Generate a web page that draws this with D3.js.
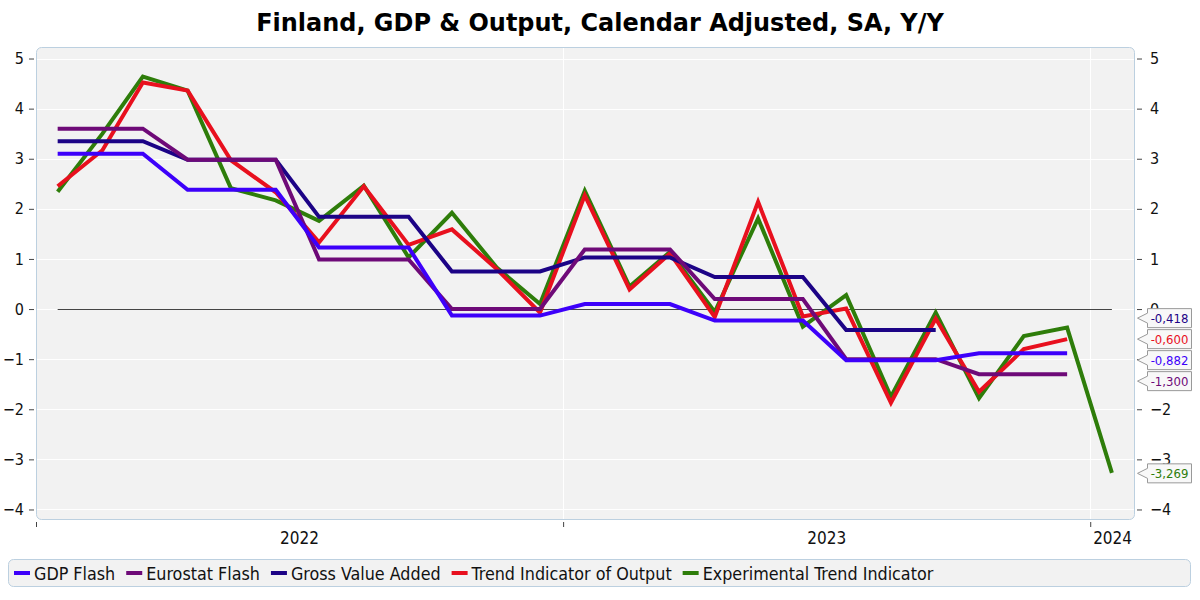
<!DOCTYPE html>
<html><head><meta charset="utf-8">
<script src="https://cdn.jsdelivr.net/npm/d3@7"></script>
<style>body{margin:0;background:#fff} svg{display:block}</style>
</head><body><svg id="c" width="1200" height="600"></svg>
<script>
const months = ["2022-01","2022-02","2022-03","2022-04","2022-05","2022-06","2022-07","2022-08","2022-09","2022-10","2022-11","2022-12",
  "2023-01","2023-02","2023-03","2023-04","2023-05","2023-06","2023-07","2023-08","2023-09","2023-10","2023-11","2023-12","2024-01"];
const yTicks = [-4,-3,-2,-1,0,1,2,3,4,5];
const xTickYears = [2022, 2023, 2024];
const seriesNames = ["GDP Flash","Eurostat Flash","Gross Value Added","Trend Indicator of Output","Experimental Trend Indicator"];
const seriesColors = ["#3d00fa","#6e0a78","#1c0386","#e8101e","#2e7d0a"];
const gdpFlash = [3.10,3.10,3.10, 2.38,2.38,2.38, 1.23,1.23,1.23, -0.13,-0.13,-0.13, 0.10,0.10,0.10, -0.23,-0.23,-0.23, -1.02,-1.02,-1.02, -0.882,-0.882,-0.882];
const eurostatFlash = [3.60,3.60,3.60, 2.98,2.98,2.98, 0.99,0.99,0.99, 0.00,0.00,0.00, 1.19,1.19,1.19, 0.20,0.20,0.20, -1.00,-1.00,-1.00, -1.300,-1.300,-1.300];
const grossValueAdded = [3.35,3.35,3.35, 2.98,2.98,2.98, 1.84,1.84,1.84, 0.75,0.75,0.75, 1.03,1.03,1.03, 0.64,0.64,0.64, -0.418,-0.418,-0.418];
const trendOutput = [2.45,3.17,4.52,4.36,2.97,2.33,1.33,2.45,1.28,1.59,0.80,-0.07, 2.27,0.39,1.11,-0.16,2.14,-0.15,0.01,-1.87,-0.19,-1.65,-0.80,-0.600];
const experimentalTrend = [2.34,3.50,4.64,4.36,2.41,2.17,1.76,2.46,1.03,1.92,0.83,0.10, 2.36,0.45,1.14,-0.06,1.81,-0.35,0.28,-1.75,-0.07,-1.78,-0.54,-0.37,-3.269];
const allSeries = [gdpFlash, eurostatFlash, grossValueAdded, trendOutput, experimentalTrend];

const FONT = "'DejaVu Sans Condensed','DejaVu Sans',sans-serif";
const svg = d3.select("#c");
const W = 1200, H = 600;
const plot = {left:36, right:1135, top:47, bottom:520};

const parseM = d3.timeParse("%Y-%m");
const dates = months.map(m => { const d = parseM(m); d.setDate(16); return d; });

const x = d3.scaleTime().domain([new Date(2022,0,1), new Date(2024,1,1)]).range([plot.left, plot.right]);
const y = d3.scaleLinear().domain([-4.21, 5.23]).range([plot.bottom, plot.top]);

// title (fit to reference width)
const title = svg.append("text").attr("x", W/2).attr("y", 30).attr("text-anchor","middle")
  .attr("font-family","'DejaVu Sans',sans-serif").attr("font-weight","bold").attr("font-size",22)
  .attr("fill","#000").text("Finland, GDP & Output, Calendar Adjusted, SA, Y/Y");
const tw = title.node().getComputedTextLength();
title.attr("font-size", Math.min(25, 22*688/tw)).attr("y", 31);

// plot background
svg.append("rect").attr("x",plot.left+0.5).attr("y",plot.top+0.5)
  .attr("width",plot.right-plot.left-1).attr("height",plot.bottom-plot.top-1)
  .attr("rx",5).attr("fill","#f2f2f2").attr("stroke","#bcd0e0");

// grid
const g = svg.append("g");
g.selectAll(".hg").data(yTicks).join("line")
  .attr("x1",plot.left+1).attr("x2",plot.right-1)
  .attr("y1",d=>Math.round(y(d))+0.5).attr("y2",d=>Math.round(y(d))+0.5)
  .attr("stroke","#fff").attr("stroke-width",1);
const yearStarts = xTickYears.map(yr => new Date(yr,0,1));
g.selectAll(".vg").data(yearStarts.slice(1)).join("line")
  .attr("x1",d=>Math.round(x(d))+0.5).attr("x2",d=>Math.round(x(d))+0.5)
  .attr("y1",plot.top+1).attr("y2",plot.bottom-1)
  .attr("stroke","#fff").attr("stroke-width",1);

// zero line
svg.append("line").attr("x1",x(dates[0])).attr("x2",x(dates[dates.length-1]))
  .attr("y1",Math.round(y(0))+0.5).attr("y2",Math.round(y(0))+0.5)
  .attr("stroke","#444").attr("stroke-width",1);

// left axis
const yl = svg.append("g").attr("transform",`translate(${plot.left-2},0)`)
  .call(d3.axisLeft(y).tickValues(yTicks).tickSize(5).tickPadding(5).tickFormat(d3.format("d")));
yl.select(".domain").remove();
yl.selectAll("line").attr("stroke","#444");
yl.selectAll("text").attr("font-family",FONT).attr("font-size",16).attr("fill","#111");
// right axis
const yrAx = svg.append("g").attr("transform",`translate(${plot.right+2},0)`)
  .call(d3.axisRight(y).tickValues(yTicks).tickSize(5).tickPadding(8).tickFormat(d3.format("d")));
yrAx.select(".domain").remove();
yrAx.selectAll("line").attr("stroke","#444");
yrAx.selectAll("text").attr("font-family",FONT).attr("font-size",16).attr("fill","#111");

// x axis ticks
const xa = svg.append("g").attr("transform",`translate(0,${plot.bottom+2})`)
  .call(d3.axisBottom(x).tickValues(yearStarts).tickSize(5).tickFormat(""));
xa.select(".domain").remove();
xa.selectAll("line").attr("stroke","#444");
const dEnd = x.domain()[1];
svg.append("g").selectAll("text").data(xTickYears).join("text")
  .attr("x", yr2 => { const a = new Date(yr2,0,1), b = new Date(Math.min(+new Date(yr2+1,0,1), +dEnd)); return (x(a)+x(b))/2; })
  .attr("y", 544).attr("text-anchor","middle")
  .attr("font-family",FONT).attr("font-size",17).attr("fill","#111").text(d=>d);

// lines
const line = d3.line().x((d,i)=>x(dates[i])).y(d=>y(d));
const order = [4,3,2,1,0];
const lg = svg.append("g");
order.forEach(k => {
  lg.append("path").datum(allSeries[k]).attr("d", line)
    .attr("fill","none").attr("stroke",seriesColors[k]).attr("stroke-width",4);
});

// last-value flags
const fmt = v => d3.format(".3f")(v).replace(".",",").replace("−","-");
let flags = allSeries.map((s,k) => ({k, v:s[s.length-1], y0:y(s[s.length-1])}));
flags.sort((a,b)=>a.y0-b.y0);
const FH = 21;
let clusters = flags.map(f => ({items:[f], mean:f.y0}));
function clusterTop(c){ return c.mean - (c.items.length-1)*FH/2; }
let changed = true;
while (changed) {
  changed = false;
  for (let i=0;i<clusters.length-1;i++){
    const a = clusters[i], b = clusters[i+1];
    const aBottom = clusterTop(a) + (a.items.length-1)*FH;
    if (clusterTop(b) - aBottom < FH) {
      const items = a.items.concat(b.items);
      const mean = d3.mean(items, f=>f.y0);
      clusters.splice(i,2,{items, mean});
      changed = true; break;
    }
  }
}
clusters.forEach(c => c.items.forEach((f,j)=> f.y = clusterTop(c) + j*FH));
// right tick labels fully covered by a flag are hidden (as in the reference)
yrAx.selectAll(".tick text").attr("display", d => flags.some(f => Math.abs(y(d)-f.y) < 6) ? "none" : null);
const fg = svg.append("g");
flags.forEach(f => {
  const tipX = plot.right + 2, bx = plot.right + 12, bw = 44, bh = 19;
  const cy = f.y;
  const p = `M${tipX},${cy} L${bx},${cy-5} L${bx},${cy-bh/2} L${bx+bw},${cy-bh/2} L${bx+bw},${cy+bh/2} L${bx},${cy+bh/2} L${bx},${cy+5} Z`;
  fg.append("path").attr("d",p).attr("fill","#f8f8f8").attr("stroke","#999").attr("stroke-width",1)
    .attr("transform","translate(0.5,0.5)");
  fg.append("text").attr("x",bx+bw/2+0.5).attr("y",cy+5).attr("text-anchor","middle")
    .attr("font-family",FONT).attr("font-size",13).attr("fill",seriesColors[f.k]).text(fmt(f.v));
});

// legend
svg.append("rect").attr("x",8.5).attr("y",559.5).attr("width",1182).attr("height",27).attr("rx",5)
  .attr("fill","#f2f2f2").attr("stroke","#bcd0e0");
let lx = 14;
const leg = svg.append("g");
seriesNames.forEach((n,k) => {
  leg.append("rect").attr("x",lx).attr("y",571).attr("width",16).attr("height",4).attr("fill",seriesColors[k]);
  const t = leg.append("text").attr("x",lx+20).attr("y",579.5).attr("font-family",FONT).attr("font-size",17.75)
    .attr("fill","#111").text(n);
  lx += 20 + t.node().getComputedTextLength() + 11;
});
</script></body></html>
